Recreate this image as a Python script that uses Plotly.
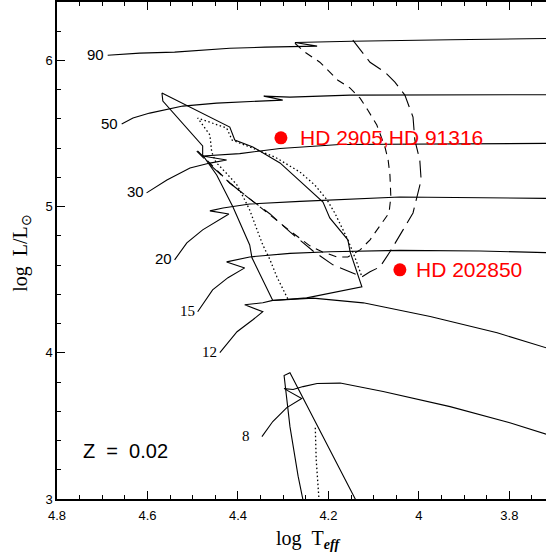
import plotly.graph_objects as go

# ---------------- data (log Teff, log L/Lsun) ----------------
m90_logT = [4.688, 4.617, 4.540, 4.418, 4.340, 4.225, 4.274, 4.219, 4.148, 3.931, 3.700]
m90_logL = [6.036, 6.050, 6.057, 6.084, 6.091, 6.098, 6.123, 6.128, 6.132, 6.142, 6.151]

m50_logT = [4.657, 4.632, 4.595, 4.522, 4.447, 4.374, 4.301, 4.343, 4.285, 4.152, 3.931, 3.700]
m50_logL = [5.565, 5.606, 5.640, 5.688, 5.708, 5.719, 5.729, 5.756, 5.749, 5.763, 5.765, 5.766]

m30_logT = [4.602, 4.557, 4.506, 4.462, 4.425, 4.478, 4.396, 4.307, 4.175, 3.932, 3.700]
m30_logL = [5.094, 5.182, 5.264, 5.298, 5.319, 5.346, 5.363, 5.398, 5.425, 5.432, 5.433]

m20_logT = [4.540, 4.513, 4.478, 4.440, 4.420, 4.462, 4.433, 4.374, 4.263, 4.042, 3.700]
m20_logL = [4.636, 4.752, 4.841, 4.909, 4.950, 4.971, 4.991, 5.018, 5.036, 5.066, 5.056]

m15_logT = [4.489, 4.456, 4.422, 4.385, 4.425, 4.374, 4.285, 4.197, 4.042, 3.865, 3.700]
m15_logL = [4.281, 4.431, 4.514, 4.581, 4.622, 4.656, 4.680, 4.691, 4.701, 4.697, 4.684]

m12_logT = [4.440, 4.402, 4.367, 4.345, 4.385, 4.345, 4.323, 4.234, 4.123, 3.975, 3.827, 3.700]
m12_logL = [4.001, 4.144, 4.226, 4.281, 4.329, 4.342, 4.359, 4.374, 4.342, 4.249, 4.137, 4.017]

m8_logT = [4.347, 4.323, 4.292, 4.259, 4.298, 4.278, 4.256, 4.225, 4.174, 4.079, 3.931, 3.799, 3.700]
m8_logL = [3.427, 3.530, 3.625, 3.687, 3.755, 3.749, 3.769, 3.790, 3.793, 3.735, 3.632, 3.521, 3.425]

track_masses = ["90", "50", "30", "20", "15", "12", "8"]

# solid boundary (upper region)
bnd_logT = [4.323, 4.248, 4.126, 4.152, 4.157, 4.197, 4.212, 4.241, 4.307, 4.367, 4.407, 4.418,
            4.568, 4.566, 4.478, 4.478, 4.447, 4.411, 4.374, 4.369, 4.345, 4.323]
bnd_logL = [4.358, 4.376, 4.451, 4.691, 4.773, 4.923, 5.032, 5.114, 5.299, 5.408, 5.456, 5.544,
            5.777, 5.722, 5.415, 5.353, 5.217, 4.998, 4.738, 4.650, 4.499, 4.358]

# dotted boundary (upper region)
dot_logT = [4.290, 4.314, 4.329, 4.345, 4.356, 4.374, 4.385, 4.402, 4.422, 4.449, 4.458, 4.462,
            4.489, 4.425, 4.413, 4.374, 4.318, 4.263, 4.230, 4.203, 4.186, 4.157, 4.141, 4.126]
dot_logL = [4.370, 4.520, 4.636, 4.738, 4.827, 4.977, 5.046, 5.148, 5.217, 5.305, 5.374, 5.490,
            5.606, 5.538, 5.456, 5.408, 5.339, 5.237, 5.148, 5.046, 4.957, 4.773, 4.650, 4.520]

# short-dashed curve
sdash_logT = [4.274, 4.252, 4.219, 4.179, 4.152, 4.130, 4.113, 4.093, 4.075, 4.068, 4.064, 4.062,
              4.066, 4.093, 4.108, 4.130, 4.157, 4.181, 4.214, 4.241, 4.285, 4.329, 4.374, 4.418,
              4.456, 4.491]
sdash_logL = [6.118, 6.057, 5.988, 5.865, 5.811, 5.742, 5.661, 5.558, 5.408, 5.319, 5.217, 5.066,
              4.957, 4.841, 4.773, 4.704, 4.656, 4.656, 4.691, 4.732, 4.834, 4.943, 5.053, 5.162,
              5.278, 5.387]

# long-dashed curve
ldash_logT = [4.146, 4.108, 4.075, 4.053, 4.031, 4.013, 4.009, 3.998, 3.995, 4.004, 4.013, 4.035,
              4.064, 4.086, 4.108, 4.126, 4.152, 4.190, 4.234, 4.285, 4.329, 4.374, 4.418, 4.456,
              4.491]
ldash_logL = [6.139, 5.988, 5.920, 5.852, 5.763, 5.613, 5.456, 5.319, 5.182, 5.059, 4.957, 4.841,
              4.691, 4.588, 4.554, 4.520, 4.554, 4.602, 4.697, 4.827, 4.950, 5.053, 5.162, 5.271,
              5.380]

# lower region (8 Msun)
low_logT = [4.254, 4.267, 4.285, 4.298, 4.285, 4.134]
low_logL = [2.960, 3.156, 3.495, 3.844, 3.864, 2.960]
lowdot_logT = [4.229, 4.227, 4.220]
lowdot_logL = [3.488, 3.270, 2.960]

# observed stars
star_names = ["HD 2905,HD 91316", "HD 202850"]
star_logT = [4.305, 4.042]
star_logL = [5.471, 4.568]

SANS = "Liberation Sans, Arial, Helvetica, sans-serif"
SERIF = "Liberation Serif, Times New Roman, serif"

fig = go.Figure()
LW = 1.1

tracks = [(m90_logT, m90_logL), (m50_logT, m50_logL), (m30_logT, m30_logL),
          (m20_logT, m20_logL), (m15_logT, m15_logL), (m12_logT, m12_logL),
          (m8_logT, m8_logL)]
for tx, ty in tracks:
    fig.add_trace(go.Scatter(x=tx, y=ty, mode="lines",
                             line=dict(color="black", width=LW), hoverinfo="skip"))

fig.add_trace(go.Scatter(x=bnd_logT, y=bnd_logL, mode="lines",
                         line=dict(color="black", width=LW)))
fig.add_trace(go.Scatter(x=low_logT, y=low_logL, mode="lines",
                         line=dict(color="black", width=LW)))
fig.add_trace(go.Scatter(x=dot_logT, y=dot_logL, mode="lines",
                         line=dict(color="black", width=1.3, dash="1.5px,2.5px")))
fig.add_trace(go.Scatter(x=lowdot_logT, y=lowdot_logL, mode="lines",
                         line=dict(color="black", width=1.3, dash="1.5px,2.5px")))
fig.add_trace(go.Scatter(x=sdash_logT, y=sdash_logL, mode="lines",
                         line=dict(color="black", width=LW, dash="8px,6px")))
fig.add_trace(go.Scatter(x=ldash_logT, y=ldash_logL, mode="lines",
                         line=dict(color="black", width=LW, dash="17px,7px")))

fig.add_trace(go.Scatter(x=star_logT, y=star_logL, mode="markers",
                         marker=dict(color="#ff0000", size=13, line=dict(width=0))))

annotations = []
# star labels
star_shift = [17, 14]
for name, tx, ty, sh in zip(star_names, star_logT, star_logL, star_shift):
    annotations.append(dict(x=tx, y=ty, xref="x", yref="y", text=name, showarrow=False,
                            xanchor="left", yanchor="middle", xshift=sh, yshift=0,
                            font=dict(family=SANS, size=21, color="#ff0000")))
# mass labels at the start of each track
label_fonts = [SANS, SANS, SANS, SANS, SERIF, SERIF, SERIF]
label_shift = [-2, -2, -1, -1, -1, -1, -10]
for lab, (tx, ty), fnt, sh in zip(track_masses, tracks, label_fonts, label_shift):
    annotations.append(dict(x=tx[0], y=ty[0], xref="x", yref="y", text=lab, showarrow=False,
                            xanchor="right", yanchor="middle", xshift=sh, yshift=1,
                            font=dict(family=fnt, size=15, color="black")))

annotations.append(dict(x=0.140, y=0.097, xref="paper", yref="paper",
                        text="Z\u00a0\u00a0=\u00a0\u00a00.02", showarrow=False,
                        xanchor="center", yanchor="middle",
                        font=dict(family=SANS, size=20, color="black")))
annotations.append(dict(x=0.513, y=-0.082, xref="paper", yref="paper",
                        text="log\u00a0\u00a0T<sub><b><i>eff</i></b></sub>", showarrow=False,
                        xanchor="center", yanchor="middle",
                        font=dict(family=SERIF, size=20, color="black")))
annotations.append(dict(x=-0.072, y=0.495, xref="paper", yref="paper",
                        text="log\u00a0\u00a0L/L<sub>\u2299</sub>", showarrow=False, textangle=-90,
                        xanchor="center", yanchor="middle",
                        font=dict(family=SERIF, size=20, color="black")))

fig.update_layout(
    width=546, height=554,
    margin=dict(l=57, r=0, t=2, b=55),
    plot_bgcolor="white", paper_bgcolor="white",
    showlegend=False,
    annotations=annotations,
)
fig.update_xaxes(range=[4.8, 3.719], tickmode="linear", tick0=0, dtick=0.2,
                 ticks="inside", ticklen=8, tickwidth=1, tickcolor="black",
                 showline=True, linecolor="black", linewidth=1.5, mirror="ticks",
                 showgrid=False, zeroline=False, ticklabelstandoff=4,
                 minor=dict(tickmode="linear", tick0=0, dtick=0.05, ticks="inside",
                            ticklen=4.5, tickwidth=1, tickcolor="black", showgrid=False),
                 tickfont=dict(family=SANS, size=13, color="black"))
fig.update_yaxes(range=[3, 6.4], tickmode="linear", tick0=0, dtick=1,
                 ticks="inside", ticklen=8, tickwidth=1, tickcolor="black",
                 showline=True, linecolor="black", linewidth=1.5, mirror=False,
                 showgrid=False, zeroline=False,
                 minor=dict(tickmode="linear", tick0=0, dtick=0.2, ticks="inside",
                            ticklen=4.5, tickwidth=1, tickcolor="black", showgrid=False),
                 tickfont=dict(family=SANS, size=13, color="black"))

fig.write_html("out.html")
